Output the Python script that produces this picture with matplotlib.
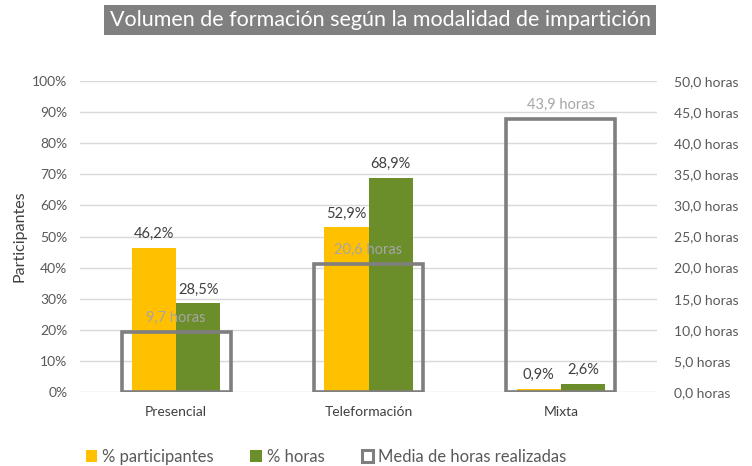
import matplotlib
matplotlib.use("Agg")
import matplotlib.pyplot as plt
from matplotlib.patches import Patch
import numpy as np

categories = ["Presencial", "Teleformación", "Mixta"]
pct_participantes = [46.2, 52.9, 0.9]
pct_horas = [28.5, 68.9, 2.6]
media_horas = [9.7, 20.6, 43.9]
left_ticks = [0, 10, 20, 30, 40, 50, 60, 70, 80, 90, 100]
right_ticks = [0, 5, 10, 15, 20, 25, 30, 35, 40, 45, 50]

plt.rcParams['font.family'] = ['Lato', 'DejaVu Sans']

YEL = "#FFC000"
GRN = "#6B8E2A"
GRY = "#7F7F7F"

fig = plt.figure(figsize=(7.52, 4.66), dpi=100)
ax = fig.add_axes([80/752, 74/466, 577/752, 311/466])
ax2 = ax.twinx()

x = np.arange(len(categories))
bw = 0.23
ax.bar(x - bw/2, pct_participantes, bw, color=YEL, zorder=2)
ax.bar(x + bw/2, pct_horas, bw, color=GRN, zorder=2)
for xi, v in zip(x - bw/2, pct_participantes):
    ax.annotate(f"{v:.1f}%".replace(".", ","), (xi, v), xytext=(0, 5), textcoords="offset points",
                ha="center", va="bottom", fontsize=10.5, color="#404040")
for xi, v in zip(x + bw/2, pct_horas):
    ax.annotate(f"{v:.1f}%".replace(".", ","), (xi, v), xytext=(0, 5), textcoords="offset points",
                ha="center", va="bottom", fontsize=10.5, color="#404040")

ax.set_ylim(0, 100)
ax.set_xlim(-0.5, 2.5)
ax.set_yticks(left_ticks)
ax.set_yticklabels([f"{t}%" for t in left_ticks])
ax.set_xticks(x)
ax.set_xticklabels(categories)
ax.yaxis.grid(True, color="#D9D9D9", linewidth=1, zorder=0)
ax.set_axisbelow(True)
for s in ax.spines.values():
    s.set_visible(False)
for s in ax2.spines.values():
    s.set_visible(False)
ax.tick_params(axis="y", length=0, labelsize=10, colors="#595959", pad=9)
ax.tick_params(axis="x", length=0, labelsize=10, colors="#404040", pad=10)
ax.set_ylabel("Participantes", fontsize=11.5, color="#404040", labelpad=4)

bwb = 0.565
ax2.bar(x, media_horas, bwb, facecolor="none", edgecolor=GRY, linewidth=2.6, zorder=3)
for xi, v in zip(x, media_horas):
    ax2.annotate(f"{v:.1f} horas".replace(".", ","), (xi, v), xytext=(0, 5), textcoords="offset points",
                 ha="center", va="bottom", fontsize=10.5, color="#A6A6A6")
ax2.set_ylim(0, 50)
ax2.set_yticks(right_ticks)
ax2.set_yticklabels([f"{t:.1f} horas".replace(".", ",") for t in right_ticks])
ax2.tick_params(axis="y", length=0, labelsize=10, colors="#595959", pad=12)

fig.text(380/752, 1 - 20/466, "Volumen de formación según la modalidad de impartición",
         ha="center", va="center", fontsize=15.5, color="white",
         bbox=dict(boxstyle="square,pad=0.25", facecolor="#808080", edgecolor="none"))

handles = [Patch(facecolor=YEL, edgecolor="none"),
           Patch(facecolor=GRN, edgecolor="none"),
           Patch(facecolor="none", edgecolor=GRY, linewidth=2.2)]
labels = ["% participantes", "% horas", "Media de horas realizadas"]
fig.legend(handles, labels, loc="center", bbox_to_anchor=(326/752, 1 - 457/466), ncol=3,
           frameon=False, fontsize=12, handlelength=0.7, handleheight=0.7, handletextpad=0.3,
           columnspacing=2.2, labelcolor="#595959")

fig.savefig("out.png", dpi=100)
